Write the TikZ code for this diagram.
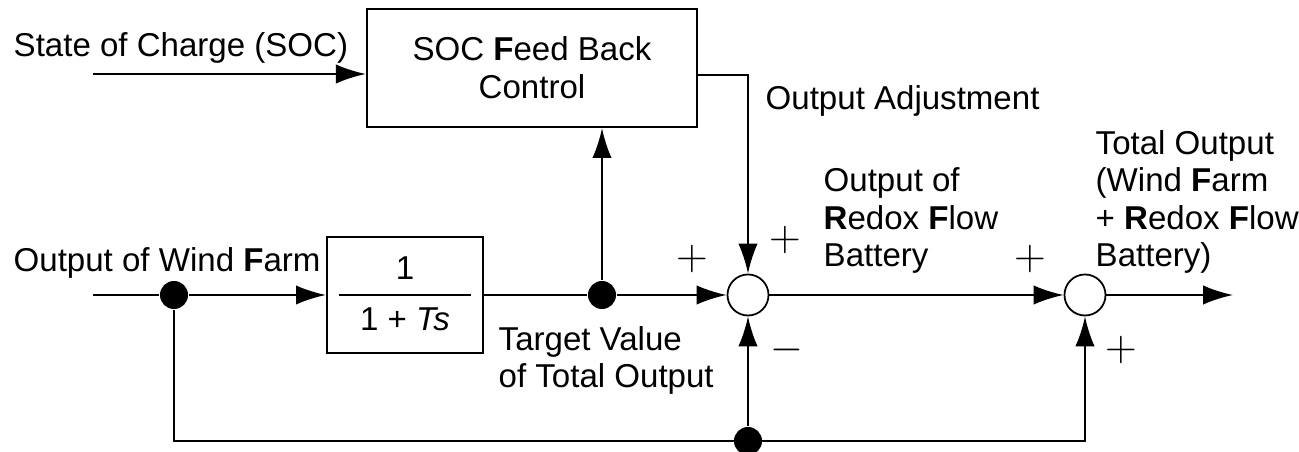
\documentclass[tikz,border=0pt]{standalone}
\usepackage{fontspec}
\setmainfont{Liberation Sans}
\usetikzlibrary{arrows.meta, positioning, calc}

\begin{document}
\begin{tikzpicture}[x=0.01cm, y=-0.01cm,
    font=\fontsize{9.4}{10.7}\selectfont,
    blk/.style={draw=black, line width=0.6pt, inner sep=0pt, align=center},
    sumpt/.style={draw=black, circle, line width=0.5pt, minimum size=0.41cm, inner sep=0pt},
    tap/.style={fill=black, circle, minimum size=0.28cm, inner sep=0pt},
    wire/.style={line width=0.6pt},
    sig/.style={line width=0.6pt, -{Latex[length=8.5pt, width=5.5pt]}},
    lbl/.style={inner sep=0pt, align=left, anchor=base west},
    sgn/.style={inner sep=0pt, font=\fontsize{13}{13}\selectfont}]
    \useasboundingbox (0,0) rectangle (1299,452);

    \node[blk, minimum width=3.3cm, minimum height=1.18cm] (socctl) at (532,68) {SOC \textbf{F}eed Back\\Control};
    \node[blk, minimum width=1.56cm, minimum height=1.16cm] (lpf) at (405,295)
      {\renewcommand{\arraystretch}{1.3}\setlength{\arrayrulewidth}{0.6pt}%
       \begin{tabular}{c}1\\\hline 1 + \textit{Ts}\end{tabular}};
    \node[sumpt] (sum1) at (748,295) {};
    \node[sumpt] (sum2) at (1085,295) {};
    \node[tap] (d1) at (174,295) {};
    \node[tap] (d2) at (602,295) {};
    \node[tap] (d3) at (748,441) {};
    \coordinate (socin) at (93,74);
    \coordinate (win) at (93,295);
    \coordinate (adj) at (748,75);
    \coordinate (out) at (1233,295);

    \draw[sig] (socin) -- (socin -| socctl.west);
    \draw[wire] (win) -- (d1);
    \draw[sig] (d1) -- (lpf);
    \draw[wire] (lpf) -- (d2);
    \draw[sig] (d2) -- (sum1);
    \draw[sig] (d2) -- (d2 |- socctl.south);
    \draw[sig] (adj -| socctl.east) -- (adj) -- (sum1);
    \draw[sig] (d3) -- (sum1);
    \draw[sig] (d1) -- (d1 |- d3) -- (sum2 |- d3) -- (sum2);
    \draw[sig] (sum1) -- (sum2);
    \draw[sig] (sum2) -- (out);

    % multi-line labels sit on the baseline of their last line
    \node[lbl] (socname) at (13,57) {State of Charge (SOC)};
    \node[lbl] (adjname) at (765,110) {Output Adjustment};
    \node[lbl] (windname) at (13,272) {Output of Wind \textbf{F}arm};
    \node[lbl] (tgtname) at (498,388) {Target Value\\of Total Output};
    \node[lbl] (rfbname) at (823,267) {Output of\\\textbf{R}edox \textbf{F}low\\Battery};
    \node[lbl] (totname) at (1095,267) {Total Output\\(Wind \textbf{F}arm\\+ \textbf{R}edox \textbf{F}low\\Battery)};

    \node[sgn] (p1) at (692,259) {$+$};
    \node[sgn] (p2) at (785,240) {$+$};
    \node[sgn] (m1) at (787,350) {$-$};
    \node[sgn] (p3) at (1030,259) {$+$};
    \node[sgn] (p4) at (1121,350) {$+$};
\end{tikzpicture}
\end{document}
